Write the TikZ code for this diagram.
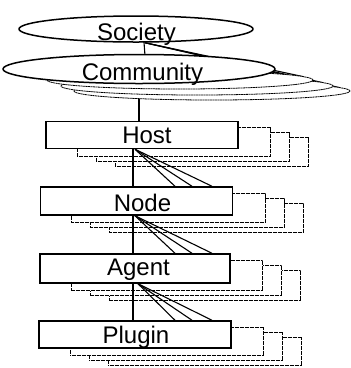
\documentclass[tikz,border=0pt]{standalone}
\usepackage{fontspec}
\setmainfont{Liberation Sans}
\usetikzlibrary{shapes.geometric,calc}
\pgfdeclarelayer{behind}
\pgfdeclarelayer{mid}
\pgfsetlayers{behind,mid,main}
\newcommand\shiftlbl[3]{\hspace*{#1}\raisebox{#2}{#3}}
\begin{document}
\begin{tikzpicture}[x=1pt,y=-1pt,
  lbl/.style={font=\fontsize{24}{24}\selectfont, text height=17.2pt, text depth=0pt, inner sep=0pt},
  oval/.style={ellipse, draw, line width=1.5pt, fill=white, lbl},
  ghostoval/.style={ellipse, draw, line width=0.8pt, dash pattern=on 2pt off 0.5pt, fill=white, inner sep=0pt},
  box/.style={rectangle, draw, line width=1.5pt, fill=white, minimum width=192pt, minimum height=27pt, lbl},
  ghost/.style={draw, line width=0.8pt, dash pattern=on 2pt off 0.5pt, fill=white},
  link/.style={line width=1.1pt}]
\useasboundingbox (0,0) rectangle (351,368);
% stacked community ellipses
\node[ghostoval, minimum width=276pt, minimum height=18pt] (e3) at (212,91) {};
\node[ghostoval, minimum width=272pt, minimum height=18pt] (e2) at (197,86) {};
\node[ghostoval, minimum width=266pt, minimum height=18pt] (e1) at (180,80) {};
\node[oval, minimum width=272pt, minimum height=29pt] (com) at (139,69) {\shiftlbl{7pt}{-2.5pt}{Community}};
\node[oval, minimum width=234pt, minimum height=26pt] (soc) at (136,29) {\shiftlbl{1pt}{-3pt}{Society}};
% main boxes
\node[box] (host) at (142,135) {\shiftlbl{10pt}{0pt}{Host}};
\node[box, minimum height=28pt] (node) at (136.5,201) {\shiftlbl{12pt}{-2pt}{Node}};
\node[box, minimum height=29pt, minimum width=190pt] (agent) at (135,268.5) {\shiftlbl{7pt}{1.5pt}{Agent}};
\node[box] (plugin) at (135,334.5) {\shiftlbl{2pt}{0pt}{Plugin}};
% stacked boxes behind
\begin{pgfonlayer}{behind}
\foreach \n in {host,node,agent,plugin}{
  \foreach \dx/\dy in {70/17,51/12,32/7}{
    \draw[ghost] ($(\n.north west)+(\dx,\dy)$) rectangle ($(\n.south east)+(\dx,\dy)$);
  }
}
\end{pgfonlayer}
% connectors
\begin{pgfonlayer}{mid}
\coordinate (vx) at (133,0);
\coordinate (fa) at (175,0);
\coordinate (fb) at (192,0);
\coordinate (fc) at (212,0);
\draw[link] ($(soc.center)+(7,0)$) -- ($(com.center)+(7,0)$);
\draw[link] (com.center) -- (com.center |- host.north);
\draw[link] (host.south -| vx) -- (node.north -| vx);
\draw[link] (node.south -| vx) -- (agent.north -| vx);
\draw[link] (agent.south -| vx) -- (plugin.north -| vx);
\draw[link] ($(soc.south)+(9,0)$) -- ($(e1.center)+(124,-3.2)$);
\draw[link] ($(soc.south)+(9,0)$) -- ($(e2.center)+(126,-3.3)$);
\draw[link] ($(soc.south)+(9,0)$) -- ($(e3.center)+(128,-3.3)$);
\foreach \s/\t/\dx in {host/node/-7, node/agent/-1.5, agent/plugin/3}{
  \foreach \f in {fa,fb,fc}{
    \draw[link] ($(\s.south)+(\dx,0)$) -- (\t.north -| \f);
  }
}
\end{pgfonlayer}
\end{tikzpicture}
\end{document}
